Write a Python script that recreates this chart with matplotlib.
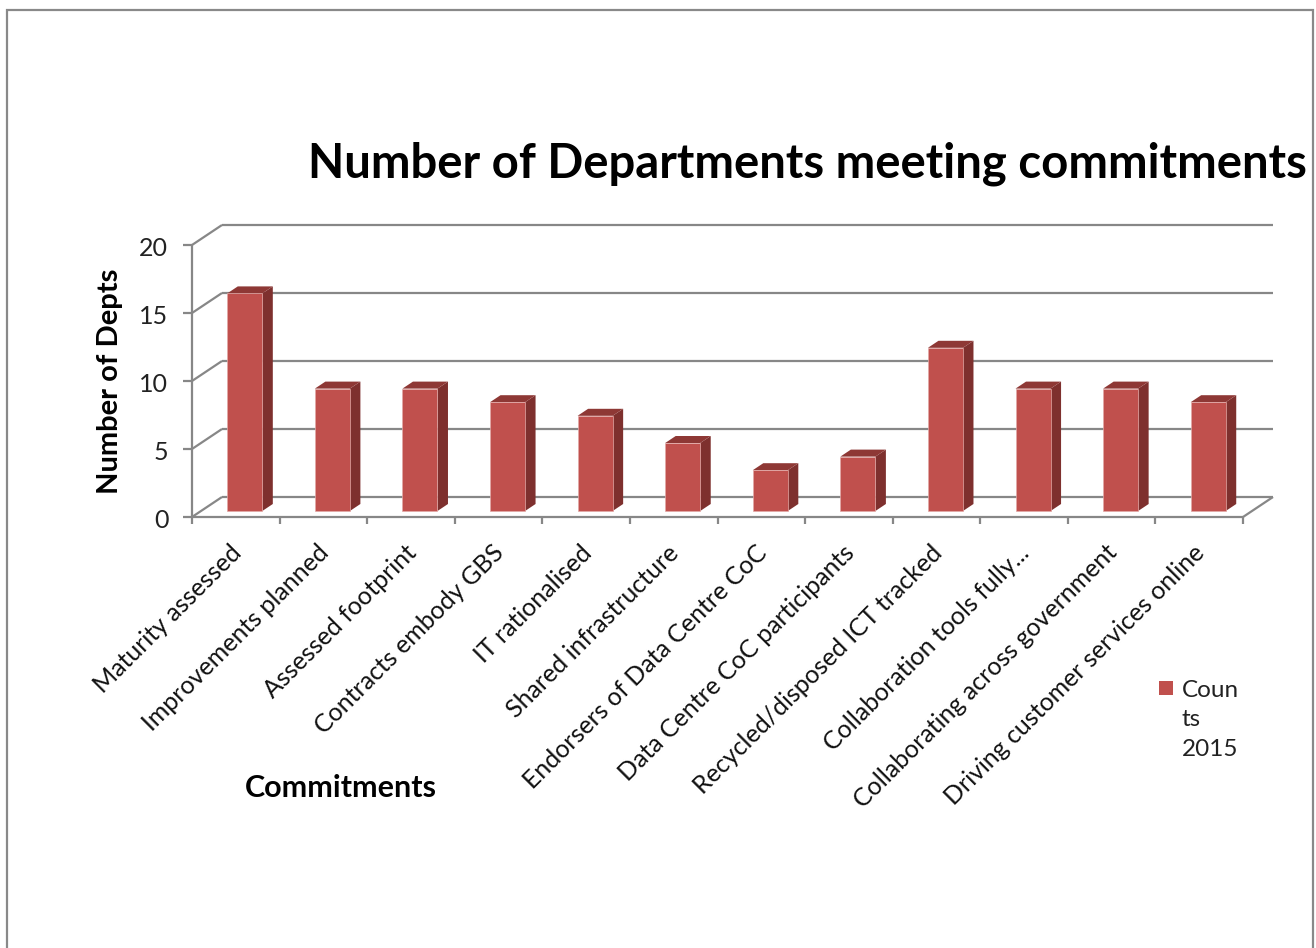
import matplotlib
matplotlib.use("Agg")
import matplotlib.pyplot as plt
from matplotlib.patches import Polygon, Rectangle

# ---- data -------------------------------------------------------------
categories = [
    "Maturity assessed",
    "Improvements planned",
    "Assessed footprint",
    "Contracts embody GBS",
    "IT rationalised",
    "Shared infrastructure",
    "Endorsers of Data Centre CoC",
    "Data Centre CoC participants",
    "Recycled/disposed ICT tracked",
    "Collaboration tools fully...",
    "Collaborating across government",
    "Driving customer services online",
]
counts_2015 = [16, 9, 9, 8, 7, 5, 3, 4, 12, 9, 9, 8]
y_ticks = [0, 5, 10, 15, 20]
series_label = "Coun\nts\n2015"
chart_title = "Number of Departments meeting commitments"
x_title = "Commitments"
y_title = "Number of Depts"

# ---- styling ------------------------------------------------------------
FONT = "Lato"
GRID = "#878787"
FRONT = "#C0504D"
SIDE = "#7E302E"
TOP = "#8E3835"

W, H = 1316, 948
fig = plt.figure(figsize=(W / 100, H / 100), dpi=100)
ax = fig.add_axes([0, 0, 1, 1])

# pixel frame of the floor's front edge and the value axis
px0, px1 = 192, 1243
py0, py20 = 517, 245
n = len(categories)
sx = (px1 - px0) / n
sy = (py0 - py20) / (y_ticks[-1] - y_ticks[0])
ax.set_xlim(-px0 / sx, (W - px0) / sx)
ax.set_ylim(-(H - py0) / sy, py0 / sy)
ax.axis("off")

# oblique projection: depth z in [0, 1] shifts right and up
DX = 30 / sx
DY = 20 / sy


def proj(x, y, z):
    return x + z * DX, y + z * DY


def seg(p, q, **kw):
    ax.plot([p[0], q[0]], [p[1], q[1]], color=GRID, lw=1.6,
            solid_capstyle="butt", **kw)


ymax = y_ticks[-1]
# back wall gridlines and side wall diagonals
for v in y_ticks:
    seg(proj(0, v, 1), proj(n, v, 1))
    seg(proj(0, v, 0), proj(0, v, 1))
    # tick marks on the value axis
    seg(proj(-0.1, v, 0), proj(0, v, 0))
    ax.text(-0.27, v - 0.25, str(v), ha="right", va="center",
            fontsize=18, family=FONT, color="#222222")

# floor right edge, front edge and value axis
seg(proj(n, 0, 0), proj(n, 0, 1))
seg(proj(0, 0, 0), proj(n, 0, 0))
seg(proj(0, 0, 0), proj(0, ymax, 0))
for i in range(n + 1):
    seg(proj(i, 0, 0), proj(i, -0.5, 0))

# 3-D columns
half = 0.2
z0, z1 = 0.3, 0.65
for i, v in enumerate(counts_2015):
    xa, xb = i + 0.5 - half, i + 0.5 + half
    front = [proj(xa, 0, z0), proj(xb, 0, z0), proj(xb, v, z0), proj(xa, v, z0)]
    side = [proj(xb, 0, z0), proj(xb, 0, z1), proj(xb, v, z1), proj(xb, v, z0)]
    top = [proj(xa, v, z0), proj(xb, v, z0), proj(xb, v, z1), proj(xa, v, z1)]
    ax.add_patch(Polygon(side, closed=True, facecolor=SIDE, edgecolor="none", zorder=3))
    ax.add_patch(Polygon(top, closed=True, facecolor=TOP, edgecolor="none", zorder=3))
    ax.add_patch(Polygon(front, closed=True, facecolor=FRONT,
                         edgecolor="#E3A9A7", lw=0.5, zorder=4))

# category labels
for i, name in enumerate(categories):
    ax.text(i + 0.52, -2.35, name, rotation=45, rotation_mode="anchor",
            ha="right", va="center", fontsize=18, family=FONT, color="#111111")

# titles
fig.text(807 / W, 1 - 177 / H, chart_title, ha="center", va="baseline",
         fontsize=34, fontweight="bold", family=FONT, color="black")
fig.text(110 / W, 1 - 381 / H, y_title, rotation=90, ha="center", va="center",
         fontsize=21, fontweight="bold", family=FONT, color="black")
fig.text(341 / W, 1 - 788 / H, x_title, ha="center", va="center",
         fontsize=22, fontweight="bold", family=FONT, color="black")

# legend
fig.patches.append(Rectangle((1159 / W, 1 - 695 / H), 14 / W, 14 / H,
                             transform=fig.transFigure, facecolor=FRONT,
                             edgecolor="none"))
fig.text(1182 / W, 1 - 720 / H, series_label, ha="left", va="center",
         fontsize=17.5, family=FONT, color="#222222", linespacing=1.49)

# outer chart border
fig.patches.append(Rectangle((7 / W, -0.05), 1306 / W, 1 - 10 / H + 0.05,
                             transform=fig.transFigure, facecolor="none",
                             edgecolor="#898989", lw=1.6))

fig.savefig("out.png", dpi=100)
